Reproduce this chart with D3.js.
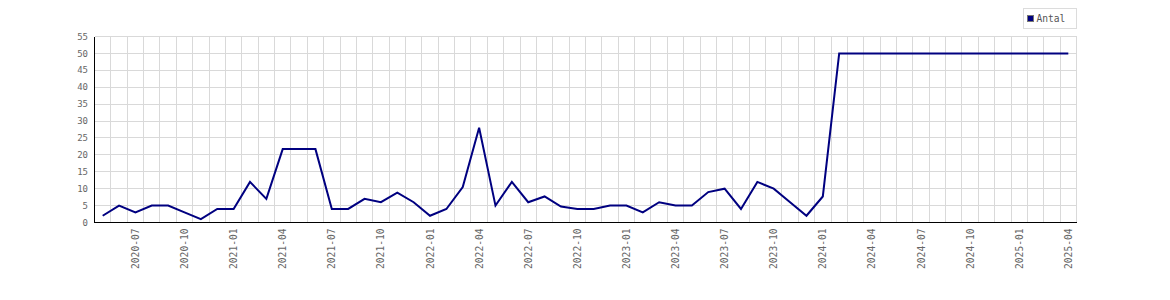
<!DOCTYPE html>
<html>
<head>
<meta charset="utf-8">
<script src="https://cdn.jsdelivr.net/npm/d3@7"></script>
<style>
  html, body { margin: 0; padding: 0; background: #fff; }
  svg { display: block; }
</style>
</head>
<body>
<svg id="chart" width="1170" height="300"></svg>
<script>
const months = [
  "2020-05","2020-06","2020-07","2020-08","2020-09","2020-10","2020-11","2020-12",
  "2021-01","2021-02","2021-03","2021-04","2021-05","2021-06","2021-07","2021-08","2021-09","2021-10","2021-11","2021-12",
  "2022-01","2022-02","2022-03","2022-04","2022-05","2022-06","2022-07","2022-08","2022-09","2022-10","2022-11","2022-12",
  "2023-01","2023-02","2023-03","2023-04","2023-05","2023-06","2023-07","2023-08","2023-09","2023-10","2023-11","2023-12",
  "2024-01","2024-02","2024-03","2024-04","2024-05","2024-06","2024-07","2024-08","2024-09","2024-10","2024-11","2024-12",
  "2025-01","2025-02","2025-03","2025-04"
];
const antal = [
  2, 5, 3, 5, 5, 3, 1, 4,
  4, 12, 7, 21.7, 21.7, 21.7, 4, 4, 7, 6, 8.8, 6,
  2, 4, 10.5, 28, 5, 12, 6, 7.7, 4.7, 4, 4, 5,
  5, 3, 6, 5, 5, 9, 10, 4, 12, 10, 6, 2,
  7.7, 50, 50, 50, 50, 50, 50, 50, 50, 50, 50, 50,
  50, 50, 50, 50
];
const xTickLabels = [
  "2020-07","2020-10","2021-01","2021-04","2021-07","2021-10",
  "2022-01","2022-04","2022-07","2022-10","2023-01","2023-04",
  "2023-07","2023-10","2024-01","2024-04","2024-07","2024-10",
  "2025-01","2025-04"
];
const yTicks = [0, 5, 10, 15, 20, 25, 30, 35, 40, 45, 50, 55];
const seriesName = "Antal";

(function () {
const svg = d3.select("#chart");
const pLeft = 94.5, pRight = 1076.5, pTop = 36.5, pBottom = 222.5;

const x = d3.scaleBand().domain(months).range([pLeft, pRight]).padding(0);
const y = d3.scaleLinear().domain([0, 55]).range([pBottom, pTop]);
const bw = x.bandwidth();
const cx = m => x(m) + bw / 2;
const snap = v => Math.round(v - 0.5) + 0.5;

// grid
const grid = svg.append("g").attr("shape-rendering", "crispEdges");
grid.selectAll("line.h").data(yTicks.filter(d => d > 0)).enter().append("line")
  .attr("x1", pLeft).attr("x2", pRight)
  .attr("y1", d => snap(y(d))).attr("y2", d => snap(y(d)))
  .attr("stroke", "#d9d9d9").attr("stroke-width", 1);
grid.selectAll("line.v").data(months).enter().append("line")
  .attr("x1", d => snap(x(d) + bw)).attr("x2", d => snap(x(d) + bw))
  .attr("y1", pTop).attr("y2", pBottom)
  .attr("stroke", "#d9d9d9").attr("stroke-width", 1);

// axes lines
svg.append("line").attr("x1", pLeft).attr("x2", pLeft).attr("y1", pTop).attr("y2", pBottom + 0.5)
  .attr("stroke", "#000").attr("shape-rendering", "crispEdges");
svg.append("line").attr("x1", pLeft).attr("x2", pRight).attr("y1", pBottom).attr("y2", pBottom)
  .attr("stroke", "#000").attr("shape-rendering", "crispEdges");

// y labels
svg.append("g").selectAll("text").data(yTicks).enter().append("text")
  .attr("x", 88).attr("y", d => y(d)).attr("dy", "0.35em")
  .attr("text-anchor", "end")
  .attr("font-family", "DejaVu Sans Mono, monospace").attr("font-size", "9px")
  .attr("fill", "#666")
  .text(d => d);

// x labels
svg.append("g").selectAll("text").data(xTickLabels).enter().append("text")
  .attr("transform", d => `translate(${cx(d) + 0.2},${pBottom + 6}) rotate(-90)`)
  .attr("dy", "0.35em")
  .attr("text-anchor", "end")
  .attr("font-family", "DejaVu Sans Mono, monospace").attr("font-size", "9.6px")
  .attr("fill", "#666")
  .text(d => d);

// line
const line = d3.line().x((d, i) => cx(months[i])).y(d => y(d));
svg.append("path").datum(antal)
  .attr("d", line)
  .attr("fill", "none").attr("stroke", "#000080").attr("stroke-width", 2)
  .attr("stroke-linejoin", "miter");

// legend
const lg = svg.append("g").attr("shape-rendering", "crispEdges");
lg.append("rect").attr("x", 1023.5).attr("y", 8.5).attr("width", 53).attr("height", 20)
  .attr("fill", "#fff").attr("stroke", "#dcdcdc");
lg.append("rect").attr("x", 1027.5).attr("y", 15.5).attr("width", 6).attr("height", 6)
  .attr("fill", "#000080").attr("stroke", "#777");
svg.append("text").attr("x", 1036.5).attr("y", 22)
  .attr("font-family", "DejaVu Sans Mono, monospace").attr("font-size", "9.6px")
  .attr("fill", "#555").text(seriesName);
})();
</script>
</body>
</html>
